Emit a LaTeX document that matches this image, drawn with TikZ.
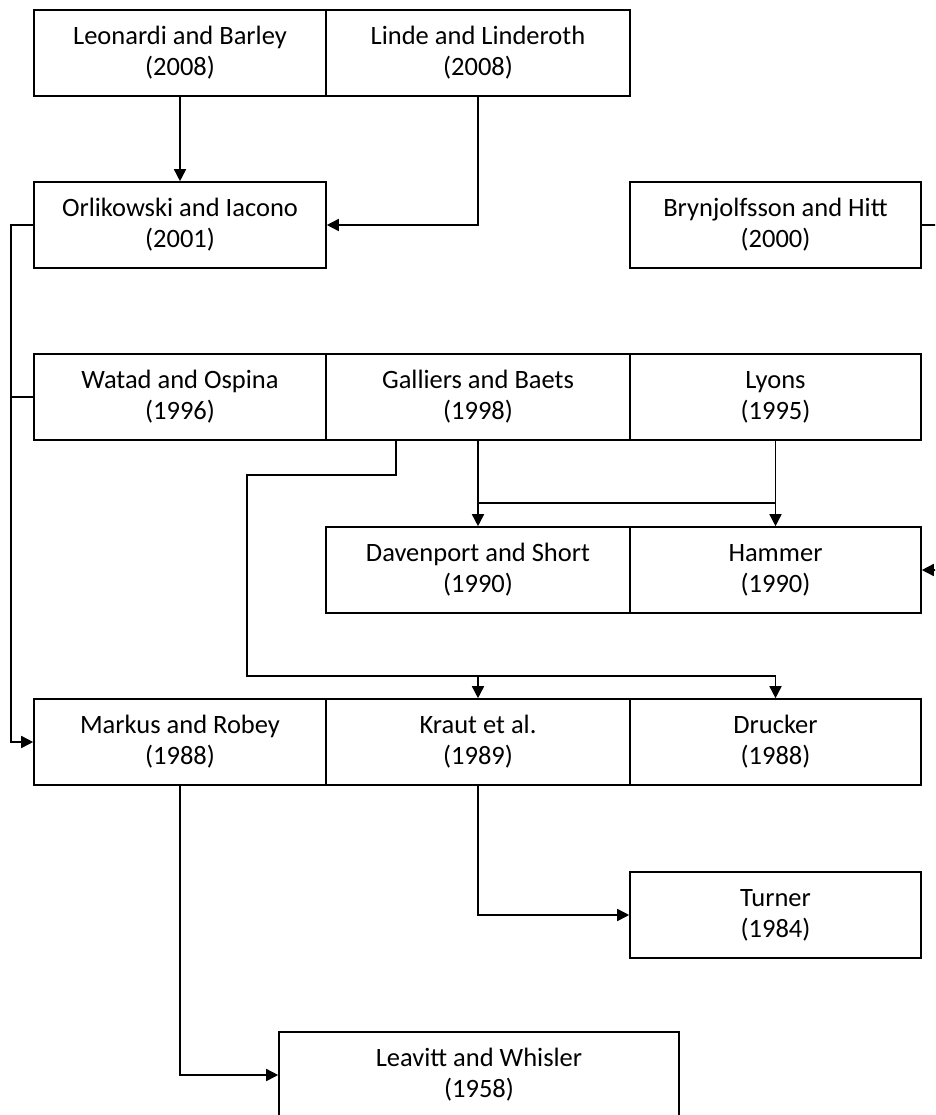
\documentclass[tikz,border=0pt]{standalone}
\usepackage{fontspec}
\setmainfont{Carlito}
\usetikzlibrary{arrows.meta}
\begin{document}
\begin{tikzpicture}[x=1pt,y=-1pt,
  ref/.style={draw, line width=1.6pt, minimum height=86pt, inner sep=0pt,
    align=center, font=\fontsize{26.5}{31}\selectfont},
  colA/.style={ref, minimum width=292pt},
  colB/.style={ref, minimum width=304pt},
  colC/.style={ref, minimum width=291pt},
  link/.style={line width=1.6pt},
  arr/.style={link, -{Triangle[length=12pt,width=12pt]}}]
\useasboundingbox (0,0) rectangle (935,1115);
\clip (0,0) rectangle (935,1115);

% reference boxes
\node[colA] (leo) at (180,53)    {Leonardi and Barley\\(2008)};
\node[colB] (lin) at (478,53)    {Linde and Linderoth\\(2008)};
\node[colA] (orl) at (180,225)   {Orlikowski and Iacono\\(2001)};
\node[colC] (bry) at (775.5,225) {Brynjolfsson and Hitt\\(2000)};
\node[colA] (wat) at (180,397)   {Watad and Ospina\\(1996)};
\node[colB] (gal) at (478,397)   {Galliers and Baets\\(1998)};
\node[colC] (lyo) at (775.5,397) {Lyons\\(1995)};
\node[colB] (dav) at (478,570)   {Davenport and Short\\(1990)};
\node[colC] (ham) at (775.5,570) {Hammer\\(1990)};
\node[colA] (mar) at (180,742)   {Markus and Robey\\(1988)};
\node[colB] (kra) at (478,742)   {Kraut et al.\\(1989)};
\node[colC] (dru) at (775.5,742) {Drucker\\(1988)};
\node[colC] (tur) at (775.5,915) {Turner\\(1984)};
\node[ref, minimum width=400pt] (lea) at (479,1075) {Leavitt and Whisler\\(1958)};

% routing points
\coordinate (lbus) at (11,0);
\coordinate (rbus) at (950,0);
\coordinate (gx) at (396,475);
\coordinate (gy) at (247,676);
\coordinate (hy) at (0,503);

% connectors
\draw[arr] (leo.south) -- (orl.north);
\draw[arr] (lin.south) |- (orl.east);
\draw[arr] (orl.west) -- (orl.west -| lbus) |- (mar.west);
\draw[link] (wat.west) -- (wat.west -| lbus);
\draw[arr] (bry.east) -- (bry.east -| rbus) |- (ham.east);

\draw[arr] (gal.south) -- (dav.north);
\draw[arr] (lyo.south) -- (ham.north);
\draw[link] (gal.south |- hy) -- (lyo.south |- hy);

\draw[link] (gal.south -| gx) -- (gx) -| (gy) -- (dru.north |- gy);
\draw[arr] (kra.north |- gy) -- (kra.north);
\draw[arr] (dru.north |- gy) -- (dru.north);

\draw[arr] (kra.south) |- (tur.west);
\draw[arr] (mar.south) |- (lea.west);
\end{tikzpicture}
\end{document}
